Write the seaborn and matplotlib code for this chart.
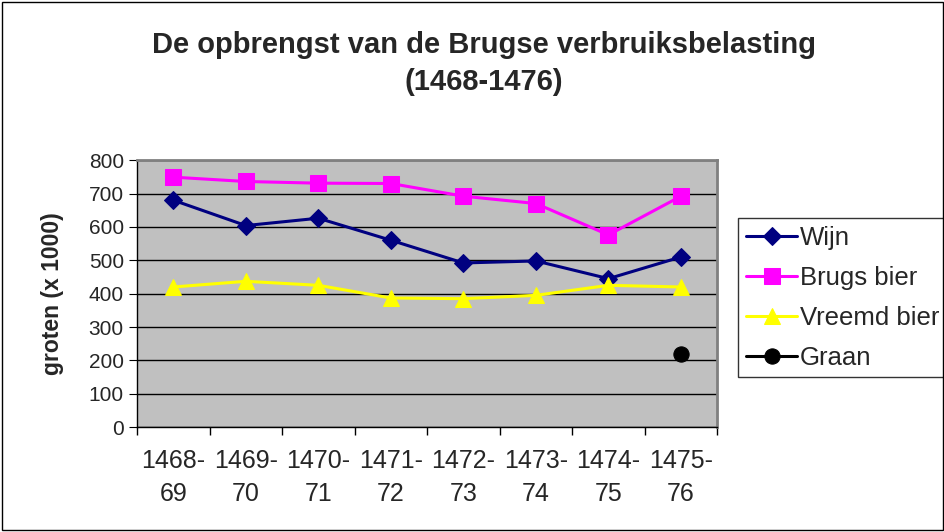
import numpy as np
import pandas as pd
import seaborn as sns
import matplotlib.pyplot as plt
from matplotlib.ticker import FixedLocator, NullFormatter

periods = ["1468-\n69", "1469-\n70", "1470-\n71", "1471-\n72",
           "1472-\n73", "1473-\n74", "1474-\n75", "1475-\n76"]
wijn = [680, 604, 626, 560, 492, 498, 445, 510]
brugs_bier = [749, 736, 731, 730, 692, 670, 576, 692]
vreemd_bier = [420, 437, 425, 387, 385, 395, 425, 420]
graan = [np.nan] * 7 + [218]

series = {
    "Wijn": wijn,
    "Brugs bier": brugs_bier,
    "Vreemd bier": vreemd_bier,
    "Graan": graan,
}
colors = {"Wijn": "#000080", "Brugs bier": "#FF00FF",
          "Vreemd bier": "#FFFF00", "Graan": "#000000"}
markers = {"Wijn": "D", "Brugs bier": "s", "Vreemd bier": "^", "Graan": "o"}
msizes = {"Wijn": 9, "Brugs bier": 11, "Vreemd bier": 12, "Graan": 11}

rows = []
for name, vals in series.items():
    for i, v in enumerate(vals):
        rows.append({"serie": name, "pos": i, "waarde": v})
df = pd.DataFrame(rows).dropna()

sns.set_style("white")
plt.rcParams["font.family"] = ["Liberation Sans", "DejaVu Sans"]

fig = plt.figure(figsize=(9.45, 5.32), dpi=100)
ax = fig.add_axes([0.145, 0.197, 0.614, 0.502])
ax.set_facecolor("#C0C0C0")

for name in series:
    sub = df[df["serie"] == name]
    sns.lineplot(data=sub, x="pos", y="waarde", ax=ax, color=colors[name],
                 marker=markers[name], markersize=msizes[name],
                 markeredgecolor=colors[name], linewidth=2.2, label=name)

ax.set_xlim(-0.5, 7.5)
ax.set_ylim(0, 800)
ax.set_yticks(range(0, 801, 100))
ax.yaxis.grid(True, color="black", linewidth=1)
ax.xaxis.grid(False)
ax.set_axisbelow(True)

ax.xaxis.set_major_locator(FixedLocator(np.arange(-0.5, 8, 1)))
ax.xaxis.set_major_formatter(NullFormatter())
ax.xaxis.set_minor_locator(FixedLocator(np.arange(0, 8)))
ax.set_xticklabels(periods, minor=True, linespacing=1.45)
ax.tick_params(axis="x", which="major", length=6, direction="out",
               bottom=True, color="black", width=1)
ax.tick_params(axis="x", which="minor", length=0, labelsize=18, pad=16)
ax.tick_params(axis="y", length=6, direction="out", left=True,
               labelsize=15, color="black")

for side in ["left", "bottom"]:
    ax.spines[side].set_color("black")
    ax.spines[side].set_linewidth(1)
for side in ["top", "right"]:
    ax.spines[side].set_color("#808080")
    ax.spines[side].set_linewidth(2)

ax.set_xlabel("")
ax.set_ylabel("groten (x 1000)", fontsize=16.5, fontweight="bold", labelpad=18)

fig.text(0.512, 0.880, "De opbrengst van de Brugse verbruiksbelasting\n(1468-1476)",
         ha="center", va="center", fontsize=21, fontweight="bold",
         linespacing=1.4, transform=fig.transFigure)

leg = ax.legend(loc="upper left", bbox_to_anchor=(1.036, 0.783), frameon=True,
                fontsize=18.5, handlelength=2.0, handletextpad=0.1,
                borderpad=0.3, labelspacing=0.62, fancybox=False,
                borderaxespad=0)
leg.get_frame().set_edgecolor("black")
leg.get_frame().set_linewidth(1)

fig.patches.append(plt.Rectangle((0.002, 0.003), 0.996, 0.994, fill=False,
                                 edgecolor="black", linewidth=1,
                                 transform=fig.transFigure, figure=fig))

fig.savefig("out.png", dpi=100, facecolor="white")
